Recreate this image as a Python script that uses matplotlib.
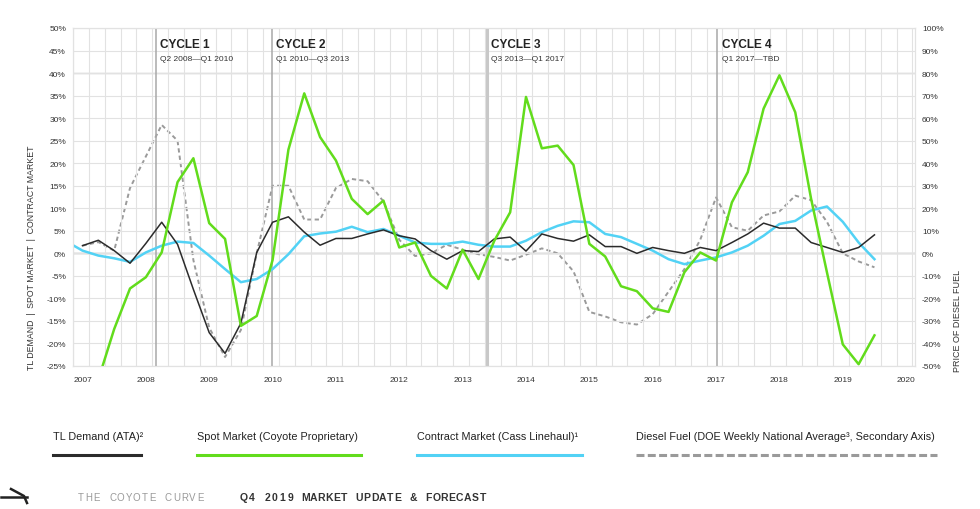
"""Coyote curve - TL demand, spot, contract and diesel"""

import numpy as np
import pandas as pd
import matplotlib
matplotlib.use('Agg')
import matplotlib.pyplot as plt
from matplotlib.lines import Line2D

plt.rcParams['font.family'] = ['Liberation Sans', 'DejaVu Sans']

# quarters 2006 Q4 .. 2019 Q3
periods = pd.period_range('2006Q4', '2019Q3', freq='Q')
quarters = np.array([p.year + (p.quarter - 1) / 4 for p in periods])

nan = np.nan

# values in %, one per quarter
tl_demand = [nan,
             1.7, 2.9, 0.6, -2.2, 2.2, 6.9, 2.0, -8.0, -17.6, -22.2, -15.5, 0.2, 6.9,
             8.1, 4.7, 1.8, 3.3, 3.3, 4.3, 5.2, 3.9, 3.2, 0.6, -1.3, 0.6, 0.4, 3.2,
             3.6, 0.5, 4.3, 3.3, 2.7, 4.1, 1.5, 1.5, 0.0, 1.3, 0.6, 0.0, 1.3,
             0.6, 2.4, 4.3, 6.7, 5.6, 5.6, 2.4, 1.3, 0.2, 1.3, 4.1]

spot_market = [nan,
               nan, -28.0, -16.8, -7.8, -5.3, 0.2, 15.8, 21.1, 6.7, 3.2, -16.1, -13.9, -1.5,
               23.0, 35.5, 25.8, 20.6, 12.1, 8.7, 11.7, 1.3, 2.4, -5.0, -7.8, 0.8, -5.7, 2.8,
               9.1, 34.7, 23.3, 23.9, 19.6, 2.1, -0.7, -7.3, -8.4, -12.2, -13.0, -4.2, 0.2,
               -1.6, 11.3, 18.0, 32.1, 39.5, 31.3, 12.1, -4.2, -20.2, -24.6, -18.2]

contract_market = [2.6,
                   0.6, -0.5, -1.1, -1.9, 0.2, 1.7, 2.6, 2.3, -0.5, -3.5, -6.4, -5.7, -3.5,
                   -0.2, 3.8, 4.4, 4.8, 5.9, 4.7, 5.4, 3.9, 2.4, 2.1, 2.1, 2.6, 1.9, 1.5,
                   1.5, 2.8, 4.7, 6.1, 7.1, 6.9, 4.3, 3.6, 2.1, 0.6, -1.3, -2.4, -1.6,
                   -0.9, 0.2, 1.7, 3.9, 6.5, 7.2, 9.5, 10.4, 7.0, 2.4, -1.3]

# secondary axis
diesel_fuel = [nan,
               3.4, 5.0, 1.2, 29.0, 43.0, 57.0, 50.0, -3.0, -33.0, -46.0, -34.0, 0.0, 30.0,
               30.0, 15.0, 15.0, 29.0, 33.0, 32.0, 23.0, 6.0, -1.2, 0.0, 3.8, 1.6, -0.4,
               -1.6, -3.2, -0.6, 2.2, 0.0, -8.0, -26.0, -28.0, -30.6, -31.6, -27.0, -17.0,
               -7.0, 6.0, 24.8, 11.6, 10.0, 16.8, 18.6, 25.6, 23.6, 14.0, 0.0, -3.6, -6.2]

years = list(range(2007, 2021))

cycle_names = ['CYCLE 1', 'CYCLE 2', 'CYCLE 3', 'CYCLE 4']
cycle_spans = ['Q2 2008\u2014Q1 2010', 'Q1 2010\u2014Q3 2013',
               'Q3 2013\u2014Q1 2017', 'Q1 2017\u2014TBD']
cycle_starts = [2008.16, 2009.99, 2013.38, 2017.02]

BLACK = '#2b2b2b'
GREEN = '#62dc1c'
CYAN = '#52d2f5'
GREY = '#9a9a9a'

fig = plt.figure(figsize=(9.8, 5.1), dpi=100)
ax = fig.add_axes([73 / 980, 1 - 367 / 510, 842 / 980, 338 / 510])
ax2 = ax.twinx()

x0, x1 = 2006.85, 2020.14
ax.set_xlim(x0, x1)
ax.set_ylim(-25, 50)
ax2.set_ylim(-50, 100)

# grid
ax.set_xticks(years)
ax.set_xticklabels([str(y) for y in years], fontsize=6, color='#333333')
ax.set_xticks(np.arange(x0, x1, 0.25), minor=True)
ax.set_yticks(np.arange(-25, 51, 5))
ax.set_yticklabels(['%d%%' % v for v in np.arange(-25, 51, 5)], fontsize=6, color='#333333')
ax2.set_yticks(np.arange(-50, 101, 10))
ax2.set_yticklabels(['%d%%' % v for v in np.arange(-50, 101, 10)], fontsize=6, color='#333333')
ax.grid(which='minor', axis='x', color='#e2e2e2', lw=0.8)
ax.grid(which='major', axis='y', color='#e2e2e2', lw=0.8)
ax.tick_params(which='both', length=0)
ax.tick_params(axis='x', pad=7)
ax.tick_params(axis='y', pad=5)
ax2.tick_params(length=0, pad=5)
for a in (ax, ax2):
    for s in a.spines.values():
        s.set_color('#e2e2e2')
        s.set_linewidth(0.8)

ax.axhline(0, color='#a0a0a0', lw=1.0, zorder=1.5)
ax.axhline(40, color='#c4c4c4', lw=1.0, zorder=1.5)

for i, xs in enumerate(cycle_starts):
    ax.axvline(xs, color='#a8a8a8' if i != 2 else '#c8c8c8', lw=1.1 if i != 2 else 2.2, zorder=1.6)
    ax.text(xs + 0.07, 46.4, cycle_names[i], fontsize=8.5, fontweight='bold',
            color='#222222', va='center', ha='left')
    ax.text(xs + 0.07, 43.2, cycle_spans[i], fontsize=6, color='#333333',
            va='center', ha='left')

# series
ax2.plot(quarters, diesel_fuel, color=GREY, lw=1.4, dashes=(2.2, 1.6))
ax.plot(quarters, contract_market, color=CYAN, lw=1.8, solid_joinstyle='round')
ax.plot(quarters, tl_demand, color=BLACK, lw=1.1)
ax.plot(quarters, spot_market, color=GREEN, lw=1.8)
ax.set_zorder(ax2.get_zorder() + 1)
ax.patch.set_visible(False)

fig.text(32 / 980, 1 - 258 / 510, 'TL DEMAND  |  SPOT MARKET  |  CONTRACT MARKET',
         rotation=90, fontsize=6.3, color='#333333', ha='center', va='center')
fig.text(957 / 980, 1 - 321 / 510, 'PRICE OF DIESEL FUEL',
         rotation=90, fontsize=6.5, color='#333333', ha='center', va='center')

# legend
legend_items = [
    ('TL Demand (ATA)\u00b2', BLACK, 53, 141, None),
    ('Spot Market (Coyote Proprietary)', GREEN, 197, 361, None),
    ('Contract Market (Cass Linehaul)\u00b9', CYAN, 417, 582, None),
    ('Diesel Fuel (DOE Weekly National Average\u00b3, Secondary Axis)', GREY, 636, 937, (2.6, 1.1)),
]
for label, color, xa, xb, dash in legend_items:
    fig.text(xa / 980, 1 - 437 / 510, label, fontsize=7.8, color='#222222', va='center', ha='left')
    ln = Line2D([xa / 980, xb / 980], [1 - 456 / 510, 1 - 456 / 510],
                transform=fig.transFigure, color=color, lw=2.2)
    if dash:
        ln.set_dashes(dash)
    fig.add_artist(ln)

# footer
def spaced(x, y, s, step, **kw):
    for i, c in enumerate(s):
        fig.text((x + i * step) / 980, 1 - y / 510, c, ha='center', va='center', **kw)

spaced(81, 498, 'THE COYOTE CURVE', 7.95, fontsize=7, color='#9a9a9a')
spaced(244, 498, 'Q4 2019 MARKET UPDATE & FORECAST', 7.7, fontsize=7.5,
       color='#333333', fontweight='bold')

for xs, ys in [([1, 27], [498, 498]), ([11, 24, 27], [490, 497, 504])]:
    fig.add_artist(Line2D([v / 980 for v in xs], [1 - v / 510 for v in ys],
                          transform=fig.transFigure, color='#222222', lw=1.8))

plt.savefig('out.png', dpi=100)
